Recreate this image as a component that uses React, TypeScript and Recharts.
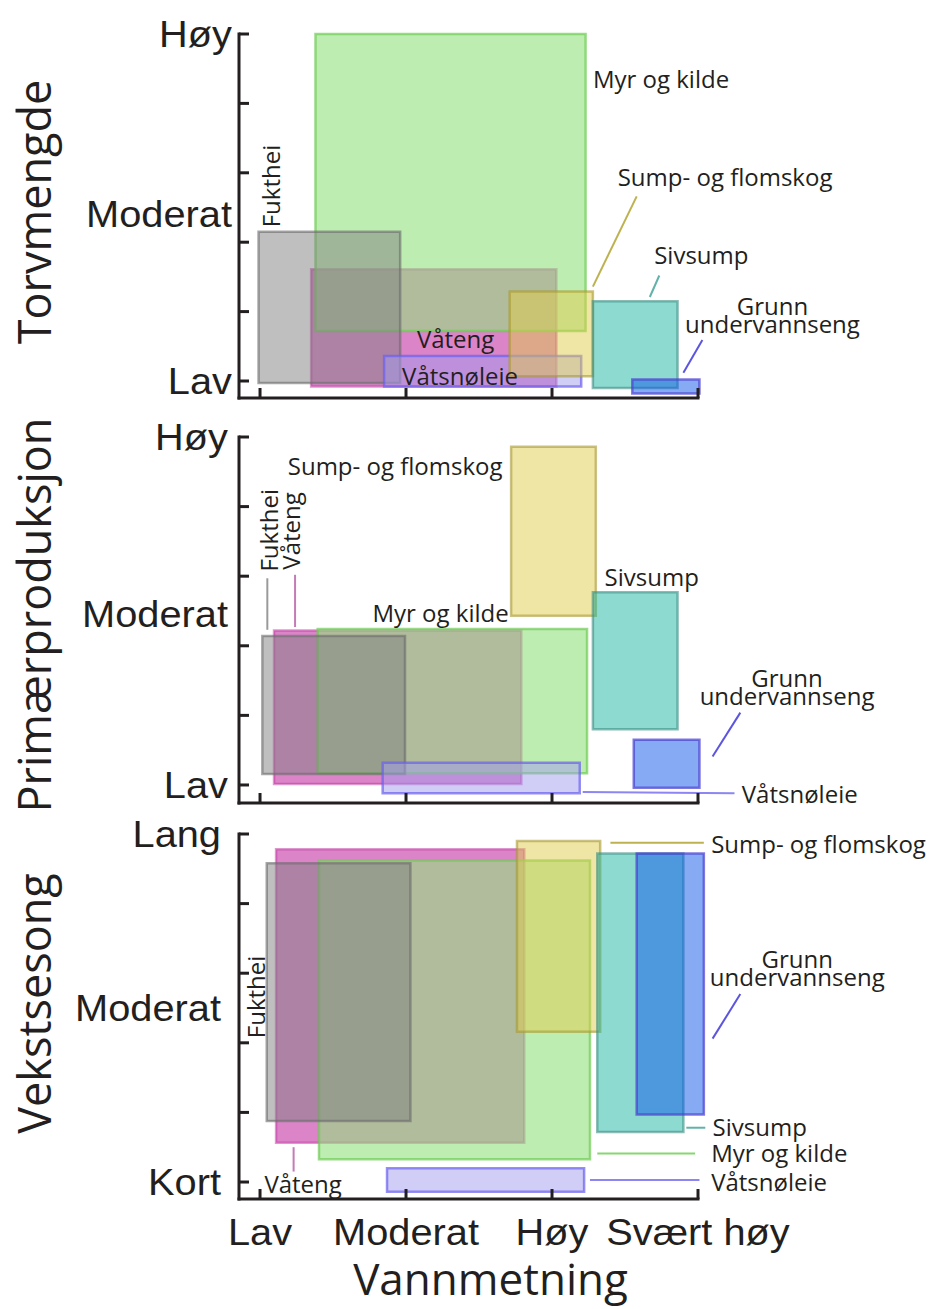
import React from 'react';
import { ComposedChart, XAxis, YAxis, ReferenceArea, ReferenceLine, ReferenceDot } from 'recharts';

// ---------------- data ----------------
const waterLevels = ['Lav', 'Moderat', 'Høy', 'Svært høy'];
const waterTickValues = [0, 1, 2, 3];
const levelTickMarks = [0, 1, 2, 3, 4, 5];

const habitats = ['Våteng', 'Myr og kilde', 'Fukthei', 'Våtsnøleie', 'Sump- og flomskog', 'Sivsump', 'Grunn undervannseng'];

// [vannmetning fra, vannmetning til, nivå fra, nivå til] per habitat (same order as habitats)
const torvRanges = [
  [0.35, 2.03, -0.08, 1.61],
  [0.38, 2.23, 0.72, 5.0],
  [-0.01, 0.96, -0.03, 2.15],
  [0.85, 2.2, -0.08, 0.36],
  [1.71, 2.28, 0.07, 1.29],
  [2.28, 2.86, -0.1, 1.15],
  [2.55, 3.01, -0.18, 0.02],
];
const primRanges = [
  [0.096, 1.79, 0.014, 2.22],
  [0.395, 2.24, 0.168, 2.24],
  [0.016, 0.993, 0.158, 2.14],
  [0.84, 2.19, -0.12, 0.32],
  [1.72, 2.3, 2.43, 4.86],
  [2.28, 2.86, 0.8, 2.77],
  [2.56, 3.01, -0.04, 0.65],
];
const vekstRanges = [
  [0.11, 1.81, 0.565, 4.78],
  [0.404, 2.26, 0.326, 4.62],
  [0.046, 1.03, 0.876, 4.58],
  [0.87, 2.22, -0.14, 0.197],
  [1.76, 2.33, 2.16, 4.9],
  [2.31, 2.9, 0.72, 4.72],
  [2.58, 3.04, 0.97, 4.72],
];

const torvLevels = ['Lav', 'Moderat', 'Høy'];
const torvLevelValues = [0, 2.4, 5];
const primLevels = ['Lav', 'Moderat', 'Høy'];
const primLevelValues = [0, 2.45, 5];
const vekstLevels = ['Kort', 'Moderat', 'Lang'];
const vekstLevelValues = [0, 2.5, 5];

// annotation anchors (data units)
const torvNotes = [
  { lines: ['Myr og kilde'], x: 2.28, y: 4.34, anchor: 'start' },
  { lines: ['Fukthei'], x: 0.08, y: 2.81, anchor: 'middle', rotate: true },
  { lines: ['Våteng'], x: 1.34, y: 0.59, anchor: 'middle' },
  { lines: ['Våtsnøleie'], x: 1.37, y: 0.06, anchor: 'middle' },
  { lines: ['Sump- og flomskog'], x: 2.45, y: 2.93, anchor: 'start' },
  { lines: ['Sivsump'], x: 2.7, y: 1.8, anchor: 'start' },
  { lines: ['Grunn', 'undervannseng'], x: 3.51, y: 1.07, anchor: 'middle' },
];
const torvLeaders = [
  { h: 4, x1: 2.58, y1: 2.66, x2: 2.28, y2: 1.36 },
  { h: 5, x1: 2.735, y1: 1.52, x2: 2.67, y2: 1.21 },
  { h: 6, x1: 3.03, y1: 0.59, x2: 2.9, y2: 0.12 },
];
const primNotes = [
  { lines: ['Sump- og flomskog'], x: 0.19, y: 4.57, anchor: 'start' },
  { lines: ['Fukthei'], x: 0.07, y: 3.66, anchor: 'middle', rotate: true },
  { lines: ['Våteng'], x: 0.22, y: 3.65, anchor: 'middle', rotate: true },
  { lines: ['Myr og kilde'], x: 0.77, y: 2.46, anchor: 'start' },
  { lines: ['Sivsump'], x: 2.36, y: 2.97, anchor: 'start' },
  { lines: ['Grunn', 'undervannseng'], x: 3.61, y: 1.52, anchor: 'middle' },
  { lines: ['Våtsnøleie'], x: 3.3, y: -0.14, anchor: 'start' },
];
const primLeaders = [
  { h: 2, x1: 0.05, y1: 2.97, x2: 0.05, y2: 2.23 },
  { h: 0, x1: 0.24, y1: 3.02, x2: 0.24, y2: 2.27 },
  { h: 6, x1: 3.29, y1: 1.04, x2: 3.1, y2: 0.41 },
  { h: 3, x1: 2.21, y1: -0.1, x2: 3.25, y2: -0.12 },
];
const vekstNotes = [
  { lines: ['Sump- og flomskog'], x: 3.09, y: 4.84, anchor: 'start' },
  { lines: ['Grunn', 'undervannseng'], x: 3.68, y: 3.19, anchor: 'middle' },
  { lines: ['Sivsump'], x: 3.1, y: 0.78, anchor: 'start' },
  { lines: ['Myr og kilde'], x: 3.09, y: 0.4, anchor: 'start' },
  { lines: ['Våtsnøleie'], x: 3.09, y: -0.01, anchor: 'start' },
  { lines: ['Fukthei'], x: -0.02, y: 2.66, anchor: 'middle', rotate: true },
  { lines: ['Våteng'], x: 0.03, y: -0.04, anchor: 'start' },
];
const vekstLeaders = [
  { h: 4, x1: 2.4, y1: 4.875, x2: 3.04, y2: 4.875 },
  { h: 6, x1: 3.29, y1: 2.7, x2: 3.1, y2: 2.06 },
  { h: 5, x1: 2.92, y1: 0.78, x2: 3.05, y2: 0.78 },
  { h: 1, x1: 2.31, y1: 0.41, x2: 2.98, y2: 0.41 },
  { h: 3, x1: 2.26, y1: 0.03, x2: 3.01, y2: 0.03 },
  { h: 0, x1: 0.23, y1: 0.5, x2: 0.23, y2: 0.15 },
];

// ---------------- styles ----------------
const AXIS = '#231f20';
const TICK_FONT = '"Liberation Sans", Arial, Helvetica, sans-serif';
const NOTE_FONT = '"Open Sans", "Noto Sans", sans-serif';

const habitatStyles = [
  { fill: '#b80a92', fillOpacity: 0.5, stroke: '#c0309f', strokeOpacity: 0.5, line: '#c47bb6' },
  { fill: '#93e17f', fillOpacity: 0.6, stroke: '#6fcc55', strokeOpacity: 0.7, line: '#86d771' },
  { fill: '#808080', fillOpacity: 0.5, stroke: '#6a6a6a', strokeOpacity: 0.6, line: '#9a9a9a' },
  { fill: '#a29bf0', fillOpacity: 0.5, stroke: '#6a5ff0', strokeOpacity: 0.7, line: '#8c85f2' },
  { fill: '#e0cc4b', fillOpacity: 0.5, stroke: '#a89a30', strokeOpacity: 0.6, line: '#beb250' },
  { fill: '#19b5a1', fillOpacity: 0.5, stroke: '#3e8f86', strokeOpacity: 0.6, line: '#62b2a9' },
  { fill: '#0f55eb', fillOpacity: 0.5, stroke: '#4a3fd0', strokeOpacity: 0.7, line: '#5c55e0' },
];

const makeYTick = (values: number[], texts: string[], gap: number) => (props: any) => {
  const { x, y, payload } = props;
  const v = payload.value;
  const idx = values.indexOf(v);
  return (
    <g>
      {Number.isInteger(v) && <line x1={x} x2={x + 10} y1={y} y2={y} stroke={AXIS} strokeWidth={3} />}
      {idx >= 0 && (
        <text
          transform={`translate(${x - gap},${y + 13}) scale(1.075,1)`}
          textAnchor="end"
          fontFamily={TICK_FONT}
          fontSize={37}
          fill={AXIS}
        >
          {texts[idx]}
        </text>
      )}
    </g>
  );
};

const makeXTick = (showLabels: boolean) => (props: any) => {
  const { x, y, payload } = props;
  return (
    <g>
      <line x1={x} x2={x} y1={y} y2={y - 10} stroke={AXIS} strokeWidth={3} />
      {showLabels && (
        <text
          transform={`translate(${x},${y + 46}) scale(1.075,1)`}
          textAnchor="middle"
          fontFamily={TICK_FONT}
          fontSize={37}
          fill={AXIS}
        >
          {waterLevels[waterTickValues.indexOf(payload.value)]}
        </text>
      )}
    </g>
  );
};

const makeYTitle = (title: string, dy: number) => (props: any) => {
  const vb = props.viewBox || { x: 0, y: 0, width: 0, height: 0 };
  const cx = 51;
  const cy = vb.y + vb.height / 2 + dy;
  return (
    <text
      x={cx}
      y={cy}
      transform={`rotate(-90 ${cx} ${cy})`}
      textAnchor="middle"
      fontFamily={NOTE_FONT}
      fontSize={45}
      fill={AXIS}
    >
      {title}
    </text>
  );
};

const renderXTitle = (props: any) => {
  const vb = props.viewBox || { x: 0, y: 0, width: 0, height: 0 };
  return (
    <text
      x={vb.x + vb.width / 2 + 22}
      y={vb.y + 96}
      textAnchor="middle"
      fontFamily={NOTE_FONT}
      fontSize={44}
      fill={AXIS}
    >
      Vannmetning
    </text>
  );
};

const makeNote = (note: any) => (props: any) => {
  const { cx, cy } = props;
  return (
    <text
      x={cx}
      y={cy}
      transform={note.rotate ? `rotate(-90 ${cx} ${cy})` : undefined}
      textAnchor={note.anchor}
      fontFamily={NOTE_FONT}
      fontSize={24}
      fill={AXIS}
    >
      {note.lines.map((line: string, i: number) => (
        <tspan key={line} x={cx} dy={i === 0 ? 8 : 18}>
          {line}
        </tspan>
      ))}
    </text>
  );
};

const panels = [
  {
    key: 'torv', title: 'Torvmengde', top: 0, height: 410, mTop: 34, mBottom: 2, xH: 10, yMin: -0.245,
    levels: torvLevels, levelValues: torvLevelValues, gap: 7, ranges: torvRanges, notes: torvNotes,
    leaders: torvLeaders, showX: false, titleDy: -4,
  },
  {
    key: 'prim', title: 'Primærproduksjon', top: 410, height: 402, mTop: 27, mBottom: 2, xH: 7, yMin: -0.259,
    levels: primLevels, levelValues: primLevelValues, gap: 11, ranges: primRanges, notes: primNotes,
    leaders: primLeaders, showX: false, titleDy: -5,
  },
  {
    key: 'vekst', title: 'Vekstsesong', top: 812, height: 497, mTop: 22, mBottom: 10, xH: 100, yMin: -0.244,
    levels: vekstLevels, levelValues: vekstLevelValues, gap: 18, ranges: vekstRanges, notes: vekstNotes,
    leaders: vekstLeaders, showX: true, titleDy: -13,
  },
];

function Panel({ cfg }: { cfg: any }) {
  const yTicks = Array.from(new Set([...levelTickMarks, ...cfg.levelValues])).sort((a: any, b: any) => a - b);
  return (
    <div style={{ position: 'absolute', left: 0, top: cfg.top, width: 930, height: cfg.height }}>
      <ComposedChart
        width={930}
        height={cfg.height}
        data={cfg.notes}
        margin={{ top: cfg.mTop, right: 232, bottom: cfg.mBottom, left: 139 }}
        style={{ overflow: 'visible' }}
      >
        <XAxis
          type="number"
          dataKey="x"
          domain={[-0.144, 3]}
          allowDataOverflow
          ticks={waterTickValues}
          interval={0}
          tickSize={0}
          tickMargin={0}
          tickLine={false}
          axisLine={{ stroke: AXIS, strokeWidth: 3, strokeLinecap: 'square' }}
          height={cfg.xH}
          tick={makeXTick(cfg.showX)}
          label={cfg.showX ? renderXTitle : undefined}
        />
        <YAxis
          type="number"
          dataKey="y"
          domain={[cfg.yMin, 5]}
          allowDataOverflow
          ticks={yTicks}
          interval={0}
          tickSize={0}
          tickMargin={0}
          tickLine={false}
          axisLine={{ stroke: AXIS, strokeWidth: 3, strokeLinecap: 'square' }}
          width={100}
          tick={makeYTick(cfg.levelValues, cfg.levels, cfg.gap)}
          label={makeYTitle(cfg.title, cfg.titleDy)}
        />
        {cfg.ranges.map((r: number[], i: number) => (
          <ReferenceArea
            key={`area-${habitats[i]}`}
            x1={r[0]}
            x2={r[1]}
            y1={r[2]}
            y2={r[3]}
            ifOverflow="visible"
            fill={habitatStyles[i].fill}
            fillOpacity={habitatStyles[i].fillOpacity}
            stroke={habitatStyles[i].stroke}
            strokeOpacity={habitatStyles[i].strokeOpacity}
            strokeWidth={2.5}
          />
        ))}
        {cfg.leaders.map((l: any, i: number) => (
          <ReferenceLine
            key={`leader-${i}`}
            segment={[{ x: l.x1, y: l.y1 }, { x: l.x2, y: l.y2 }]}
            ifOverflow="visible"
            stroke={habitatStyles[l.h].line}
            strokeWidth={2}
          />
        ))}
        {cfg.notes.map((n: any, i: number) => (
          <ReferenceDot
            key={`note-${i}`}
            x={n.x}
            y={n.y}
            r={0}
            ifOverflow="visible"
            shape={makeNote(n)}
          />
        ))}
      </ComposedChart>
    </div>
  );
}

export default function App() {
  return (
    <div style={{ position: 'absolute', left: 0, top: 0, width: 930, height: 1309, background: '#ffffff' }}>
      {panels.map((p) => (
        <Panel key={p.key} cfg={p} />
      ))}
    </div>
  );
}
